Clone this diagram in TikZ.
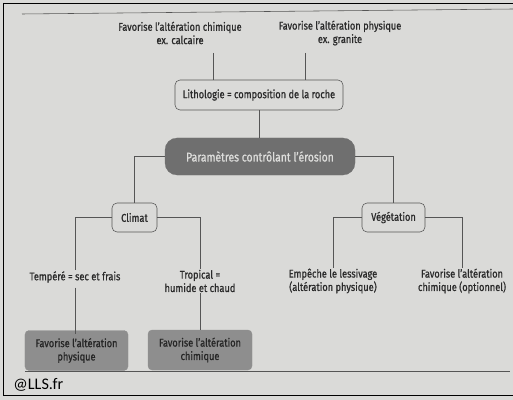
\documentclass[tikz,border=0pt]{standalone}
\usepackage{fontspec}
\setmainfont{Fira Sans}[FakeStretch=0.82, FakeBold=0.9]
\newfontfamily\llsfont{Carlito}
\definecolor{paper}{HTML}{DADAD8}
\definecolor{ink}{HTML}{2A2A2A}
\definecolor{rule}{HTML}{555555}
\definecolor{darkfill}{HTML}{6F6F6F}
\definecolor{midfill}{HTML}{8E8E8E}
\tikzset{
  label/.style={align=center, text=ink, font=\fontsize{16}{19}\selectfont, inner sep=1pt},
  keybox/.style={draw=rule, thick, rounded corners=2.5mm, text=ink, font=\fontsize{16}{19}\selectfont},
  mainbox/.style={fill=darkfill, draw=darkfill, rounded corners=6mm, text=paper!90!white, font=\fontsize{18}{21}\selectfont},
  resultbox/.style={fill=midfill, draw=midfill, rounded corners=2mm, align=center, text=ink!90!black, font=\fontsize{16}{19}\selectfont},
  link/.style={draw=rule, thick}
}
\begin{document}
\begin{tikzpicture}[x=0.5mm, y=-0.5mm]
    \useasboundingbox (0,0) rectangle (513,400);
    \fill[paper] (0,0) rectangle (513,400);
    % Frame and rules
    \draw[line width=1.2pt, black] (3,3) -- (520,3);
    \draw[line width=1.2pt, black] (3,3) -- (3,395) -- (520,395);
    \draw[rule, thick] (22,14) -- (513,9);
    \draw[rule, thick] (25,371) -- (510,371);
    % Top level
    \node[label] (chim) at (180,33) {Favorise l'altération chimique\\ex. calcaire};
    \node[label] (phys) at (340,33) {Favorise l'altération physique\\ex. granite};
    \node[keybox, minimum width=84mm, minimum height=15mm] (litho) at (259,95) {Lithologie = composition de la roche};
    \coordinate (c1) at (213,53);
    \coordinate (c2) at (305,53);
    \draw[link] (c1) -- (c1 |- litho.north);
    \draw[link] (c2) -- (c2 |- litho.north);
    % Central node
    \node[mainbox, minimum width=95mm, minimum height=18.5mm] (param) at (260,156.5) {Paramètres contrôlant l'érosion};
    \draw[link] (litho.south) -- (litho.south |- param.north);
    % Second level
    \node[keybox, minimum width=22.5mm, minimum height=14.5mm] (climat) at (134.5,217.5) {Climat};
    \node[keybox, minimum width=31.5mm, minimum height=14.5mm] (veget) at (393.5,217.5) {Végétation};
    \draw[link] (param.west) -| (climat.north);
    \draw[link] (param.east) -| (veget.north);
    % Third level
    \node[label] (temp) at (75,277) {Tempéré = sec et frais};
    \node[label] (trop) at (200,281) {Tropical =\\humide et chaud};
    \node[label] (emp) at (333,281) {Empêche le lessivage\\(altération physique)};
    \node[label] (opt) at (462,281) {Favorise l'altération\\chimique (optionnel)};
    \draw[link] (climat.west) -| (temp.north);
    \draw[link] (climat.east) -| (trop.north);
    \draw[link] (veget.west) -| (emp.north);
    \draw[link] (veget.east) -| (opt.north);
    % Results
    \node[resultbox, minimum width=51.5mm, minimum height=20mm] (resphys) at (76.5,350.5) {Favorise l'altération\\physique};
    \node[resultbox, minimum width=52mm, minimum height=20mm] (reschim) at (200,350) {Favorise l'altération\\chimique};
    \draw[link] ([yshift=-2mm]temp.south) -- ([yshift=-2mm]temp.south |- resphys.north);
    \draw[link] (trop.south) -- (trop.south |- reschim.north);
    % Credit
    \node[anchor=west, text=black, font=\llsfont\fontsize{23}{26}\selectfont] (lls) at (11,385) {@LLS.fr};
\end{tikzpicture}
\end{document}
